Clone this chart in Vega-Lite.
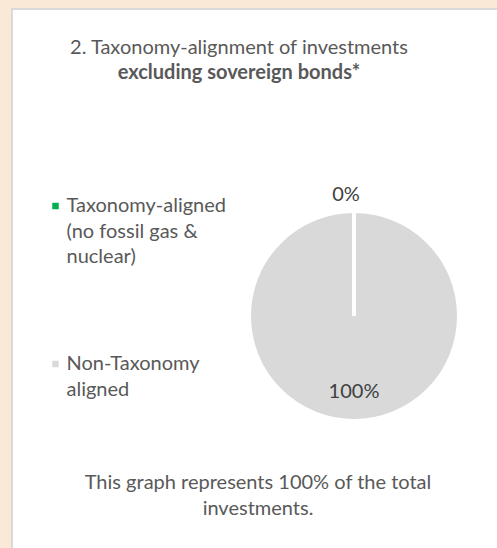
{
  "$schema": "https://vega.github.io/schema/vega-lite/v6.json",
  "background": "#FBE9D8",
  "padding": {"left": 11, "top": 8, "right": 0, "bottom": 0},
  "config": {
    "font": "Lato",
    "view": {"fill": "white", "stroke": "#D9D9D9", "strokeWidth": 2},
    "style": {"guide-label": {"lineHeight": 25.5}}
  },
  "title": {
    "text": "2. Taxonomy-alignment of investments",
    "subtitle": "excluding sovereign bonds*",
    "anchor": "start",
    "align": "center",
    "dx": 228,
    "offset": -75,
    "font": "Lato",
    "fontSize": 20,
    "fontWeight": "normal",
    "color": "#595959",
    "subtitleFont": "Lato",
    "subtitleFontSize": 20,
    "subtitleFontWeight": "bold",
    "subtitleColor": "#595959",
    "subtitlePadding": 5
  },
  "vconcat": [
    {
      "width": 684,
      "height": 614,
      "view": {"fill": "white", "stroke": "#D9D9D9", "strokeWidth": 2},
      "title": {
        "text": ["This graph represents 100% of the total", "investments."],
        "orient": "bottom",
        "anchor": "start",
        "align": "center",
        "dx": 246,
        "offset": -150,
        "font": "Lato",
        "fontSize": 20,
        "fontWeight": "normal",
        "color": "#595959",
        "lineHeight": 26
      },
      "data": {
        "values": [
          {"category": "Non-Taxonomy aligned", "share": 100, "label": "100%"},
          {"category": "Taxonomy-aligned (no fossil gas & nuclear)", "share": 0, "label": "0%"}
        ]
      },
      "encoding": {
        "theta": {"field": "share", "type": "quantitative", "stack": true}
      },
      "layer": [
        {
          "mark": {"type": "arc", "outerRadius": 105, "stroke": "white", "strokeWidth": 4},
          "encoding": {
            "color": {
              "field": "category",
              "type": "nominal",
              "scale": {
                "domain": ["Taxonomy-aligned (no fossil gas & nuclear)", "Non-Taxonomy aligned"],
                "range": ["#00B050", "#D9D9D9"]
              },
              "legend": {
                "orient": "none",
                "legendX": 33.5,
                "legendY": 177,
                "title": null,
                "padding": 0,
                "symbolType": "M-1,2.09H1V4.09H-1Z",
                "symbolSize": 42,
                "symbolStrokeWidth": 0,
                "labelFont": "Lato",
                "labelFontSize": 20,
                "labelColor": "#595959",
                "labelLimit": 300,
                "labelOffset": 1,
                "labelBaseline": "top",
                "rowPadding": 77,
                "labelExpr": "datum.label == 'Non-Taxonomy aligned' ? ['Non-Taxonomy', 'aligned'] : ['Taxonomy-aligned', '(no fossil gas &', 'nuclear)']"
              }
            }
          }
        },
        {
          "transform": [{"filter": "datum.share == 0"}],
          "mark": {"type": "text", "radius": 121, "dx": -8, "font": "Lato", "fontSize": 20, "color": "#404040"},
          "encoding": {"text": {"field": "label"}}
        },
        {
          "transform": [{"filter": "datum.share > 0"}],
          "mark": {"type": "text", "radius": 76, "font": "Lato", "fontSize": 20, "color": "#404040"},
          "encoding": {"text": {"field": "label"}}
        }
      ]
    }
  ]
}
